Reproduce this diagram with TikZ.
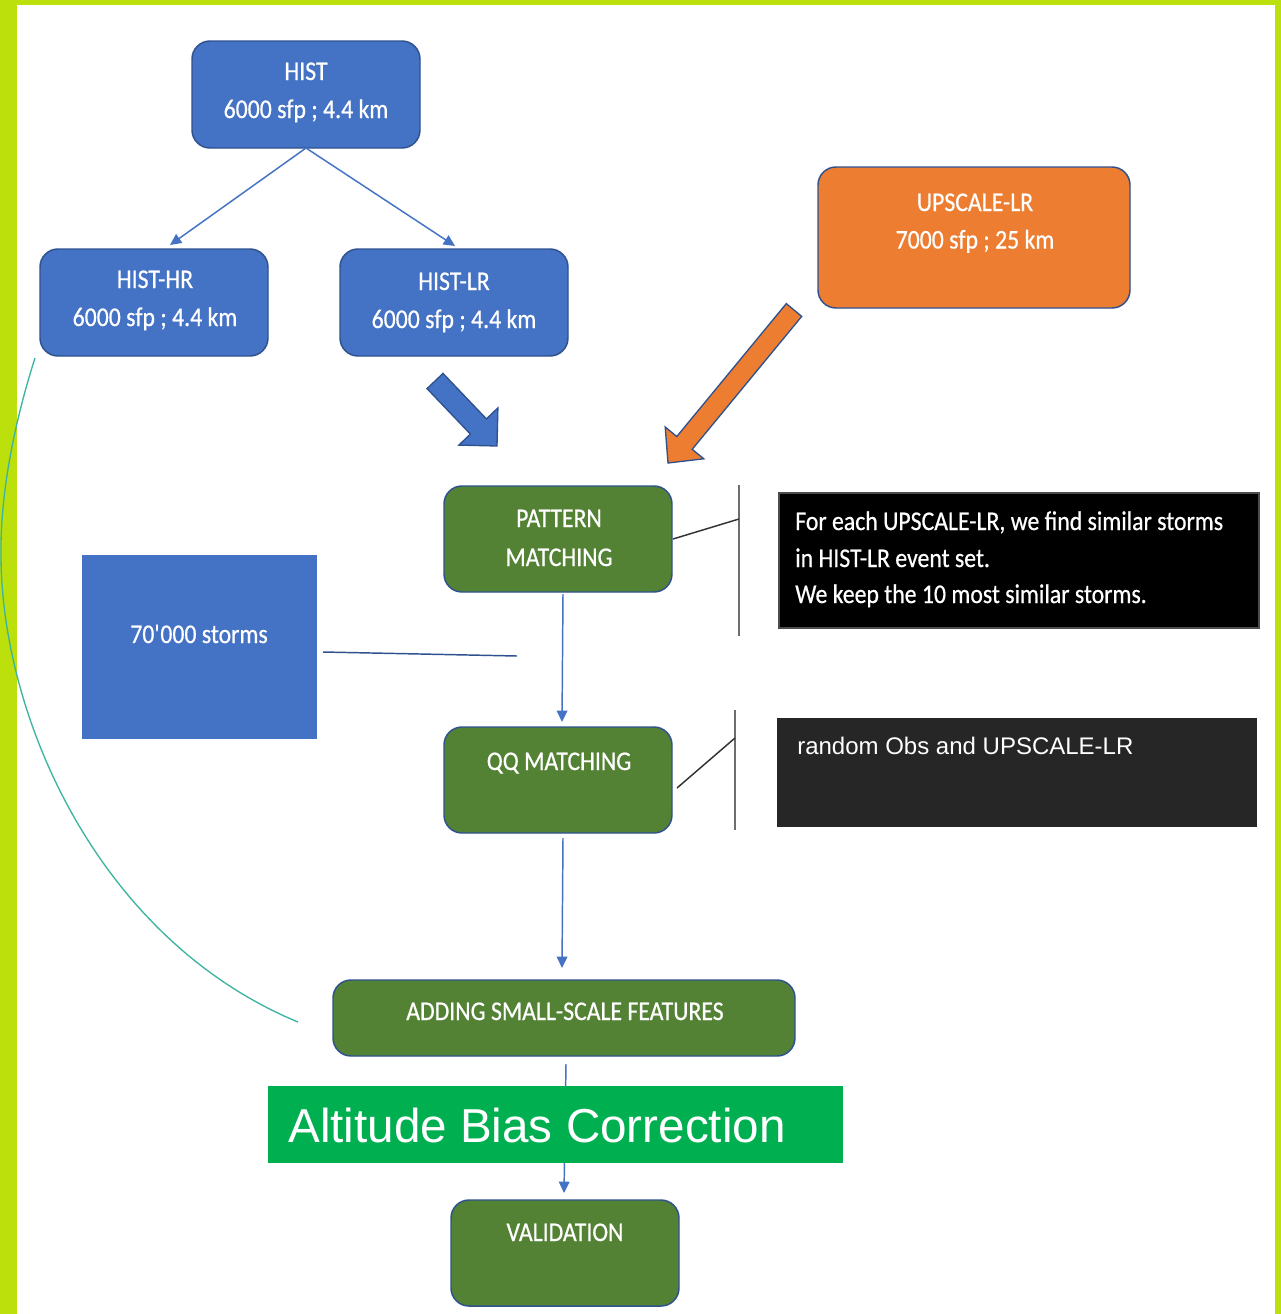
\documentclass[tikz,border=0pt]{standalone}
\usepackage{fontspec}
\newfontfamily\calib[FakeStretch=0.88,FakeBold=0.6]{Carlito}
\newfontfamily\arialf{Liberation Sans}
\usetikzlibrary{arrows.meta}
\definecolor{lime}{RGB}{188,224,12}
\definecolor{ublue}{RGB}{68,114,196}
\definecolor{edgeb}{RGB}{47,82,143}
\definecolor{uorange}{RGB}{237,125,49}
\definecolor{ugreen}{RGB}{84,130,53}
\definecolor{agreen}{RGB}{0,176,80}
\definecolor{dgray}{RGB}{38,38,38}
\definecolor{tealc}{RGB}{60,180,160}
\definecolor{barg}{RGB}{110,110,110}
\begin{document}
\begin{tikzpicture}[x=0.75pt,y=-0.75pt,
  box/.style={draw=edgeb,line width=1.1pt,rounded corners=13.5pt,inner sep=0pt,outer sep=0pt},
  bbox/.style={box,fill=ublue},
  obox/.style={box,fill=uorange},
  gbox/.style={box,fill=ugreen},
  sq/.style={inner sep=0pt,outer sep=0pt},
  lbl/.style={text=white,font=\calib\fontsize{20.25}{28}\selectfont,anchor=base,inner sep=0pt},
  lbll/.style={lbl,anchor=base west},
  conn/.style={draw=ublue,line width=1.1pt,-{Triangle[length=8.5pt,width=8pt]}},
  tick/.style={draw=black!80,line width=1.1pt},
  bar/.style={draw=barg,line width=1.8pt},
  blockarrow/.style={draw=edgeb,line width=1pt,line join=miter}
]
\useasboundingbox (0,0) rectangle (1281,1314);
% background and frame
\fill[white] (0,0) rectangle (1281,1314);
\fill[lime] (0,0) rectangle (17,1314);
\fill[lime] (0,0) rectangle (1281,5);
\fill[lime] (1275,0) rectangle (1281,1314);

% boxes
\node[bbox,minimum width=171pt,minimum height=80.25pt] (hist) at (306,94.5) {};
\node[bbox,minimum width=171pt,minimum height=80.25pt] (histhr) at (154,302.5) {};
\node[bbox,minimum width=171pt,minimum height=80.25pt] (histlr) at (454,302.5) {};
\node[obox,minimum width=234pt,minimum height=105.75pt] (up) at (974,237.5) {};
\node[gbox,minimum width=171pt,minimum height=79.5pt] (pat) at (558,539) {};
\node[gbox,minimum width=171pt,minimum height=79.5pt] (qq) at (558,780) {};
\node[gbox,minimum width=346.5pt,minimum height=57pt] (add) at (564,1018) {};
\node[gbox,minimum width=171pt,minimum height=79.5pt] (val) at (565,1253) {};
\node[sq,fill=ublue,minimum width=176.25pt,minimum height=138pt] (storms) at (199.5,647) {};
\node[sq,fill=black,draw=black!70,line width=0.8pt,minimum width=360pt,minimum height=101.25pt] (note1) at (1019,560.5) {};
\node[sq,fill=dgray,minimum width=360pt,minimum height=81.75pt] (note2) at (1017,772.5) {};

% texts
\node[lbl] (t1a) at (306,80) {HIST};
\node[lbl] (t1b) at (306,118) {6000 sfp ; 4.4 km};
\node[lbl] (t2a) at (155,288) {HIST-HR};
\node[lbl] (t2b) at (155,326) {6000 sfp ; 4.4 km};
\node[lbl] (t3a) at (454,290) {HIST-LR};
\node[lbl] (t3b) at (454,328) {6000 sfp ; 4.4 km};
\node[lbl] (t4a) at (975,211) {UPSCALE-LR};
\node[lbl] (t4b) at (975,248.5) {7000 sfp ; 25 km};
\node[lbl] (t5a) at (559,527) {PATTERN};
\node[lbl] (t5b) at (559,566) {MATCHING};
\node[lbl] (t6) at (199,643) {70\textquotesingle000 storms};
\node[lbl] (t7) at (559,770) {QQ MATCHING};
\node[lbl] (t8) at (565,1020) {ADDING SMALL-SCALE FEATURES};
\node[lbl] (t9) at (565,1241) {VALIDATION};
\node[lbll] (n1a) at (795,530) {For each UPSCALE-LR, we find similar storms};
\node[lbll] (n1b) at (795,567) {in HIST-LR event set.};
\node[lbll] (n1c) at (795,603) {We keep the 10 most similar storms.};
\node[anchor=base west,inner sep=0pt,text=white,font=\arialf\fontsize{18}{22}\selectfont] (n2) at (797,754.5) {random Obs and UPSCALE-LR};

% connectors
\draw[conn] (hist.south) -- ([xshift=12pt,yshift=3pt]histhr.north);
\draw[conn] (hist.south) -- ([xshift=0.75pt,yshift=2.25pt]histlr.north);
\draw[conn] ([xshift=3.75pt,yshift=-1.5pt]pat.south) -- ([xshift=3pt,yshift=3.75pt]qq.north);
\draw[conn] ([xshift=3.75pt,yshift=-3.75pt]qq.south) -- ([xshift=-1.5pt,yshift=9pt]add.north);
\draw[conn] ([xshift=1.5pt,yshift=-6pt]add.south) -- ([xshift=-0.75pt,yshift=5.25pt]val.north);

% storms line
\coordinate (sl) at (517,656);
\draw[draw=edgeb,line width=1.1pt] ([xshift=4.5pt,yshift=-3.75pt]storms.east) -- (sl);

% side ticks
\coordinate (b1) at (739,519);
\draw[bar] (739,485) -- (739,636);
\draw[tick] ([xshift=0.75pt]pat.east) -- (b1);
\coordinate (b2) at (735,738);
\draw[bar] (735,710) -- (735,830);
\draw[tick] ([xshift=3.75pt,yshift=-6pt]qq.east) -- (b2);

% block arrows
\filldraw[blockarrow,fill=ublue] (443.0,373.4) -- (486.4,418.9) -- (497.9,407.9) -- (497,446) -- (458.9,445.1) -- (470.4,434.1) -- (427.0,388.6) -- cycle;
\filldraw[blockarrow,fill=uorange] (801.7,316.4) -- (692.2,449.3) -- (703.8,458.8) -- (668,463) -- (665.2,427.0) -- (676.8,436.5) -- (786.3,303.6) -- cycle;

% altitude bias correction banner
\node[sq,fill=agreen,minimum width=431.25pt,minimum height=57.75pt] (alt) at (555.5,1124.5) {};
\node[anchor=base west,inner sep=0pt,text=white,font=\arialf\fontsize{35.7}{40}\selectfont] (altt) at (288,1142) {Altitude Bias Correction};

% teal curve
\coordinate (ca) at (35,358);
\coordinate (cb) at (298,1022);
\draw[tealc,line width=1pt] (ca) .. controls (12,430) and (0,500) .. (1,557) .. controls (2,720) and (100,940) .. (cb);
\end{tikzpicture}
\end{document}
